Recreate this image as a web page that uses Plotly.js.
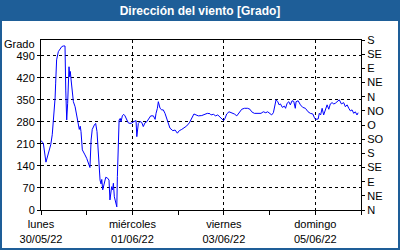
<!DOCTYPE html>
<html>
<head>
<meta charset="utf-8">
<script src="https://cdn.plot.ly/plotly-3.0.1.min.js"></script>
<style>
  html, body { margin: 0; padding: 0; }
  #frame { position: relative; width: 400px; height: 250px; background: #1e5e98; overflow: hidden; }
  #inner { position: absolute; left: 2px; top: 21px; width: 396px; height: 227px; background: #ffffff; }
  #chart { position: absolute; left: 0; top: 0; width: 400px; height: 250px; }
</style>
</head>
<body>
<div id="frame"><div id="inner"></div><div id="chart"></div></div>
<script>
// Hours since lunes 30/05/22 00:00
const hours = [0,1.2,2.6,3.8,5.1,5.9,6.5,7.4,7.7,8.2,9.1,10.0,10.9,11.7,12.6,13.0,13.5,14.0,14.7,15.1,15.4,15.8,16.4,17.0,17.9,18.4,19.1,19.6,20.1,20.6,21.0,21.7,22.4,23.1,24.0,24.8,25.7,26.3,26.9,28.0,28.7,29.4,30.1,30.6,31.0,31.5,31.9,32.4,33.1,34.0,35.0,35.7,36.2,37.1,37.6,38.0,38.5,39.2,39.8,40.1,40.6,41.0,41.6,42.0,42.7,43.4,44.1,45.0,45.8,46.7,47.6,48.5,49.9,50.3,51.1,52.0,52.9,53.7,54.6,55.5,56.3,57.6,59.0,59.9,60.4,61.1,61.6,62.5,63.4,64.2,65.1,66.0,66.9,67.7,69.2,70.4,71.6,72.6,73.9,75.1,76.5,77.9,79.1,80.3,81.4,82.6,84.4,86.1,87.3,88.7,89.3,90.5,91.7,92.8,94.0,95.2,95.9,96.6,97.5,98.7,100.1,101.5,102.8,104.0,105.4,106.8,108.5,109.7,110.6,112.0,113.3,114.5,115.5,116.7,118.0,119.0,120.2,121.1,122.0,122.9,123.4,124.3,125.0,125.7,126.7,127.8,128.4,129.2,130.1,130.9,131.8,132.7,133.5,133.9,135.0,136.2,137.4,138.8,140.2,141.4,142.7,143.4,144.1,145.5,146.1,146.8,147.6,148.4,149.3,150.2,151.1,151.9,152.8,153.7,154.5,155.4,156.6,157.7,158.9,159.8,160.7,161.6,162.4,163.3,164.2,165.0,165.9,166.5];
const direction = [220,213,152,181,207,239,282,356,403,477,503,510,519,521,521,381,286,339,455,423,440,413,371,344,328,312,286,265,256,266,249,191,180,175,164,153,135,222,256,270,275,249,185,127,95,83,97,64,85,104,101,95,32,74,64,85,42,26,10,106,222,286,291,280,299,304,299,284,277,275,276,280,284,233,275,281,278,265,277,280,288,299,299,288,307,323,344,323,318,318,307,288,275,260,252,254,244,252,256,260,267,277,291,305,302,299,300,303,307,306,302,304,299,302,296,288,284,291,305,312,309,305,299,309,320,323,323,320,312,307,307,305,307,312,309,312,305,302,309,339,350,344,334,337,326,330,323,339,344,334,347,345,323,344,347,334,326,323,312,307,305,295,288,289,307,302,323,302,315,334,320,337,341,337,339,344,350,337,341,328,334,323,315,318,307,312,302,309];

const xTickVals = [0,48,96,144];
const xTickText = ["lunes<br>30/05/22","miércoles<br>01/06/22","viernes<br>03/06/22","domingo<br>05/06/22"];
const xMinorVals = [24,72,120,168];
const yTickVals = [0,70,140,210,280,350,420,490];
const dirTickVals = [0,45,90,135,180,225,270,315,360,405,450,495,540];
const dirTickText = ["N","NE","E","SE","S","SO","O","NO","N","NE","E","SE","S"];

const font = {family: "Liberation Sans, Arial, sans-serif", size: 11, color: "#000"};

const traces = [
  {x: hours, y: direction, type: "scatter", mode: "lines",
   line: {color: "#0000ff", width: 1}, hoverinfo: "x+y", showlegend: false},
  {x: [null], y: [null], yaxis: "y2", type: "scatter", mode: "lines", showlegend: false, hoverinfo: "skip"}
];

const layout = {
  width: 400, height: 250,
  margin: {l: 41, r: 39, t: 40, b: 40, pad: 0},
  paper_bgcolor: "rgba(0,0,0,0)",
  plot_bgcolor: "#ffffff",
  font: font,
  showlegend: false,
  title: {text: "Dirección del viento [Grado]", x: 0.5, xanchor: "center",
          y: 0.958, yanchor: "middle", yref: "container",
          font: {family: "Liberation Sans, Arial, sans-serif", size: 12, color: "#ffffff", weight: "bold"}},
  xaxis: {
    range: [0, 168], tickmode: "array", tickvals: xTickVals, ticktext: xTickText,
    ticks: "outside", ticklen: 4, tickcolor: "#000",
    showgrid: true, gridcolor: "#000", griddash: "3px,3px", gridwidth: 1,
    showline: true, linecolor: "#000", linewidth: 1, mirror: true,
    zeroline: false, tickfont: font,
    minor: {tickmode: "array", tickvals: xMinorVals, ticks: "outside", ticklen: 4, tickcolor: "#000", showgrid: false}
  },
  yaxis: {
    range: [0, 540], tickmode: "array", tickvals: yTickVals,
    ticks: "outside", ticklen: 3, tickcolor: "#000",
    showgrid: true, gridcolor: "#000", griddash: "3px,3px", gridwidth: 1,
    showline: true, linecolor: "#000", linewidth: 1, mirror: true,
    zeroline: false, tickfont: font
  },
  yaxis2: {
    overlaying: "y", side: "right", range: [0, 540],
    tickmode: "array", tickvals: dirTickVals, ticktext: dirTickText,
    ticks: "outside", ticklen: 3, tickcolor: "#000",
    showgrid: false, zeroline: false, showline: true, linecolor: "#000",
    tickfont: font
  },
  annotations: [
    {text: "Grado", xref: "paper", yref: "paper", x: -0.0125, y: 0.978,
     xanchor: "right", yanchor: "middle", showarrow: false, font: font}
  ]
};

Plotly.newPlot("chart", traces, layout, {staticPlot: true, displayModeBar: false});
</script>
</body>
</html>
